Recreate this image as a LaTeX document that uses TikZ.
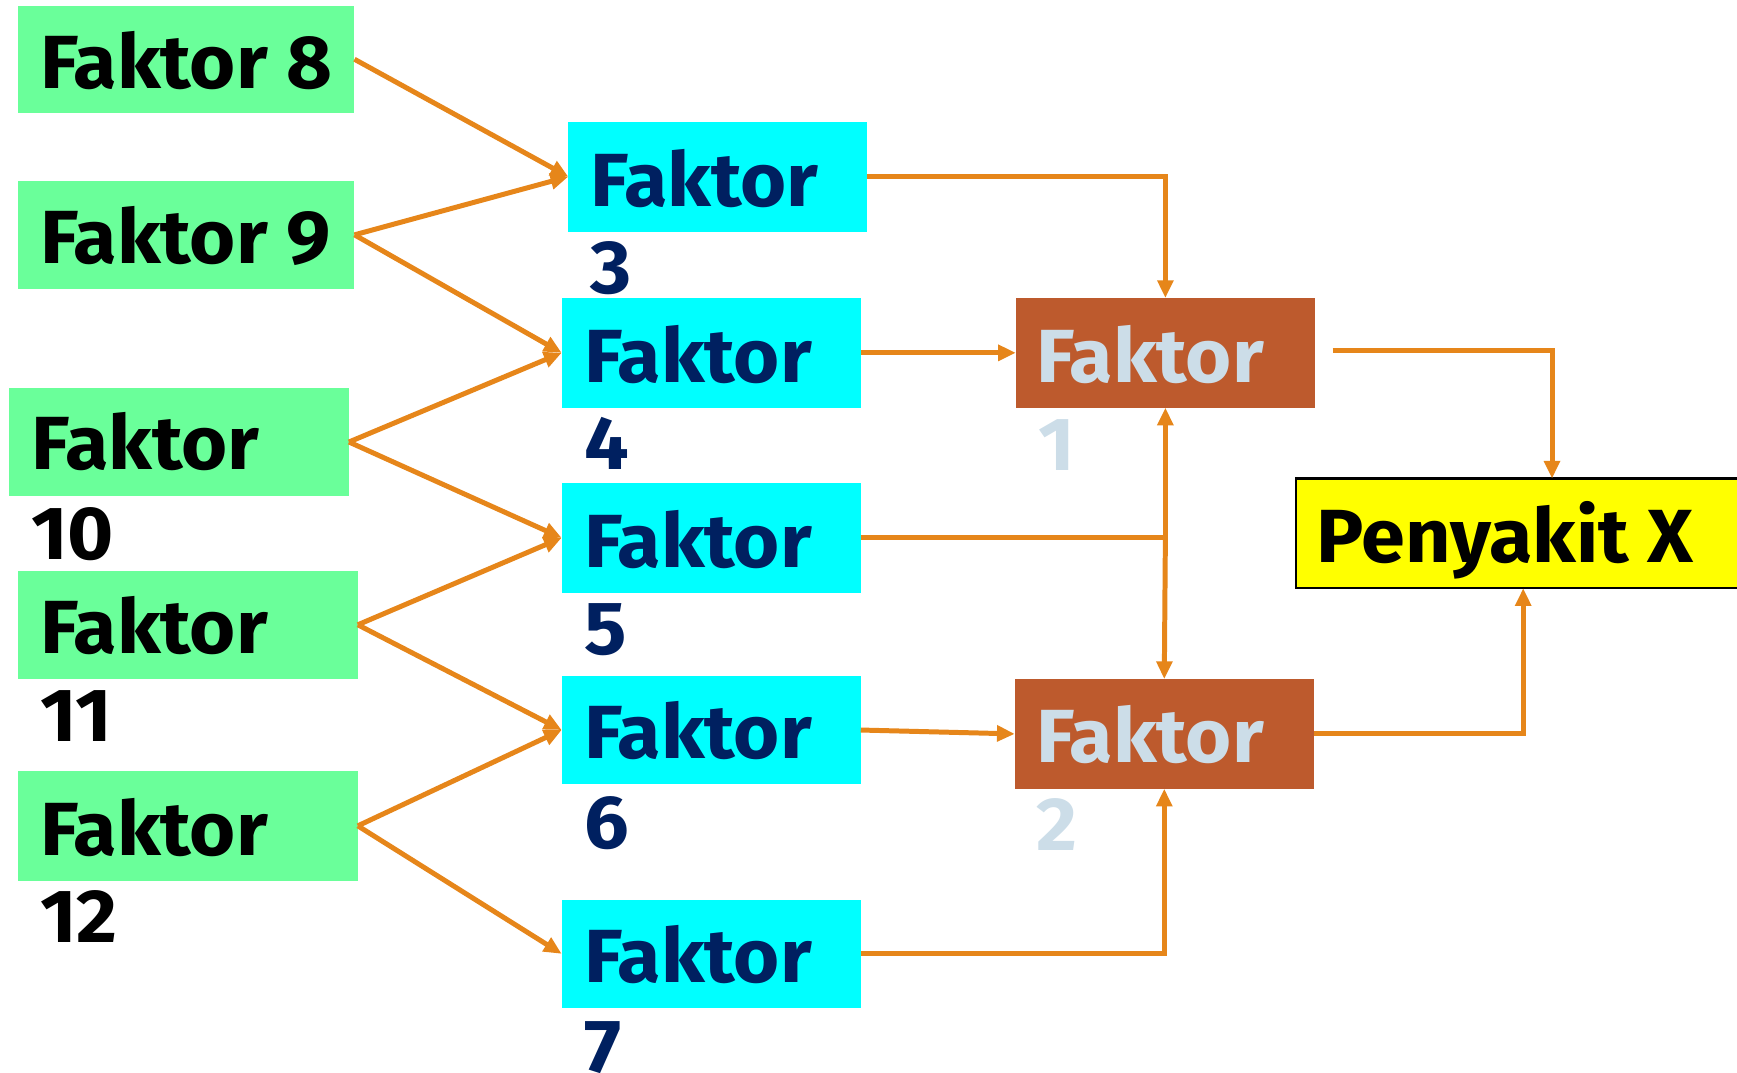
\documentclass[tikz,border=0pt]{standalone}
\usepackage{fontspec}
\setmainfont[FakeStretch=1.05]{Fira Sans}
\usetikzlibrary{arrows.meta,calc}
\definecolor{gfill}{HTML}{6AFF9A}
\definecolor{cfill}{HTML}{00FFFF}
\definecolor{bfill}{HTML}{BD5A2D}
\definecolor{yfill}{HTML}{FFFF00}
\definecolor{navy}{HTML}{002060}
\definecolor{pale}{HTML}{CCDDE8}
\definecolor{conn}{HTML}{E6861A}
\newcommand\lblfont{\fontsize{68}{80}\selectfont\bfseries}
\begin{document}
\begin{tikzpicture}[x=1pt,y=-1pt,
  box/.style={rectangle, inner sep=0pt, outer sep=0pt, minimum height=98pt},
  gbox/.style={box, fill=gfill, minimum width=305pt},
  cbox/.style={box, fill=cfill, minimum width=270pt},
  bbox/.style={box, fill=bfill, minimum width=270pt},
  ybox/.style={box, fill=yfill, draw=black, line width=2pt, minimum width=402pt},
  lbl/.style={anchor=base west, inner sep=0pt, font=\lblfont},
  blk/.style={lbl, text=black},
  nav/.style={lbl, text=navy},
  pal/.style={lbl, text=pale},
  link/.style={draw=conn, line width=4.5pt, -{Triangle[length=16pt,width=14pt]}},
  plain/.style={draw=conn, line width=4.5pt}
]
\clip (0,0) rectangle (1568,968);
\useasboundingbox (0,0) rectangle (1568,968);

% green boxes
\node[gbox, minimum width=304pt, minimum height=97pt] (F8) at (168,53.5) {};
\node[gbox, minimum width=304pt] (F9) at (168,212) {};
\node[gbox, minimum width=307pt] (F10) at (161.5,399) {};
\node[gbox, minimum width=307pt] (F11) at (169.5,564) {};
\node[gbox, minimum width=307pt, minimum height=99pt] (F12) at (169.5,745.5) {};

% cyan boxes
\node[cbox, minimum height=99pt] (F3) at (648,159.5) {};
\node[cbox, minimum height=99pt] (F4) at (642,318.5) {};
\node[cbox, minimum height=99pt] (F5) at (642,485.5) {};
\node[cbox] (F6) at (642,659) {};
\node[cbox] (F7) at (642,861) {};

% brown boxes
\node[bbox, minimum height=99pt] (F1) at (1052,318.5) {};
\node[bbox, minimum height=99pt] (F2) at (1051,662.5) {};

% yellow box
\node[ybox, minimum height=99pt] (Y) at (1371,481.5) {};

% texts
\node[blk] (t8) at (36,80) {Faktor 8};
\node[blk] (t9) at (36,238) {Faktor 9};
\node[blk] (t10) at (28,424) {Faktor};
\node[blk] (n10) at (28,505) {10};
\node[blk] (t11) at (36,590) {Faktor};
\node[blk] (n11) at (36,669) {11};
\node[blk] (t12) at (36,772) {Faktor};
\node[blk] (n12) at (36,851) {12};

\node[nav] (t3) at (533,186) {Faktor};
\node[nav] (n3) at (533,265) {3};
\node[nav] (t4) at (527,345) {Faktor};
\node[nav] (n4) at (527,424) {4};
\node[nav] (t5) at (527,512) {Faktor};
\node[nav] (n5) at (527,591) {5};
\node[nav] (t6) at (527,685) {Faktor};
\node[nav] (n6) at (527,766) {6};
\node[nav] (t7) at (527,887) {Faktor};
\node[nav] (n7) at (527,968) {7};

\node[pal] (t1) at (935,345) {Faktor};
\node[pal] (n1) at (937,425) {1};
\node[pal] (t2) at (935,688) {Faktor};
\node[pal] (n2) at (935,768) {2};

\node[blk] (ty) at (1188,508) {Penyakit X};

% connectors from green to cyan
\draw[link] (F8.east) -- (F3.west);
\draw[link] (F9.east) -- (F3.west);
\draw[link] (F9.east) -- (F4.west);
\draw[link] (F10.east) -- (F4.west);
\draw[link] (F10.east) -- (F5.west);
\draw[link] (F11.east) -- (F5.west);
\draw[link] (F11.east) -- (F6.west);
\draw[link] (F12.east) -- (F6.west);
\draw[link] (F12.east) -- (F7.west);

% cyan to brown
\draw[link] (F3.east) -| (F1.north);
\draw[link] (F4.east) -- (F1.west);
\coordinate (J) at (F1.south |- F5.east);
\draw[plain] (F5.east) -- (J);
\draw[link] (J) -- (F1.south);
\draw[link] (J) -- (F2.north);
\draw[link] (F6.east) -- (F2.west);
\draw[link] (F7.east) -| (F2.south);

% brown to yellow
\coordinate (S1) at ($(F1.east)+(16,-2.5)$);
\coordinate (Yn) at ($(Y.north west)+(231,0)$);
\coordinate (Ys) at ($(Y.south west)+(205,0)$);
\draw[link] (S1) -| (Yn);
\draw[link] (F2.east) -| (Ys);
\end{tikzpicture}
\end{document}
